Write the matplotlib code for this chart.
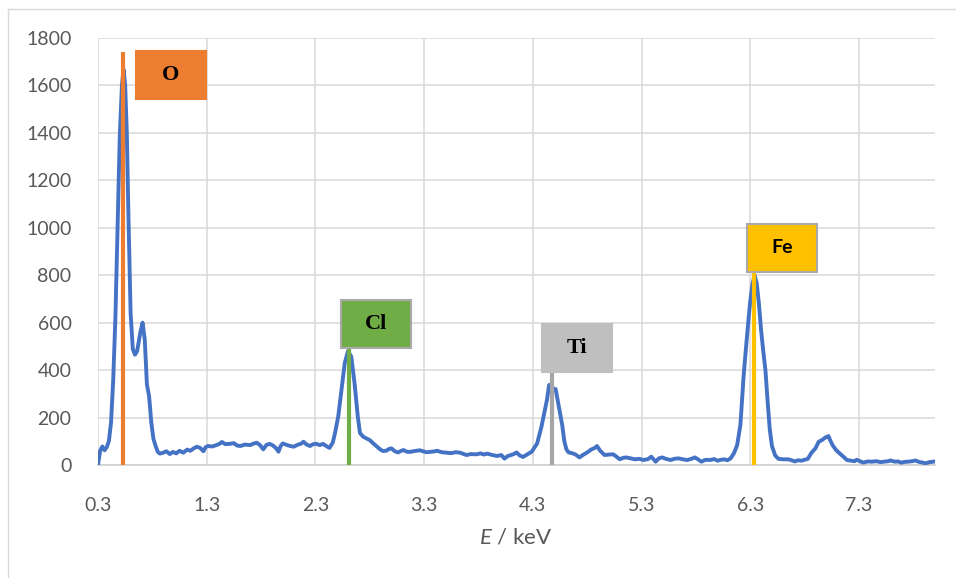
import numpy as np
import matplotlib
matplotlib.use("Agg")
import matplotlib.pyplot as plt
from matplotlib.patches import Rectangle
from matplotlib.lines import Line2D

# ---------------- data ----------------
energy_kev = [
    0.30, 0.32, 0.34, 0.36, 0.38, 0.40, 0.42, 0.44, 0.46, 0.48, 0.50, 0.52, 0.535, 0.55, 0.565, 0.58,
    0.60, 0.62, 0.64, 0.66, 0.69, 0.71, 0.73, 0.75, 0.77, 0.79, 0.81, 0.83, 0.85, 0.87, 0.90, 0.93,
    0.96, 0.99, 1.02, 1.05, 1.085, 1.12, 1.15, 1.18, 1.21, 1.24, 1.27, 1.29, 1.31, 1.35, 1.39, 1.42,
    1.44, 1.47, 1.51, 1.55, 1.58, 1.61, 1.65, 1.70, 1.73, 1.76, 1.79, 1.82, 1.85, 1.88, 1.91, 1.94,
    1.96, 1.98, 2.00, 2.04, 2.07, 2.10, 2.14, 2.17, 2.19, 2.22, 2.25, 2.28, 2.31, 2.34, 2.37, 2.40,
    2.43, 2.46, 2.48, 2.51, 2.54, 2.57, 2.60, 2.63, 2.66, 2.69, 2.71, 2.74, 2.77, 2.80, 2.83, 2.86,
    2.89, 2.92, 2.95, 2.98, 3.00, 3.03, 3.06, 3.09, 3.11, 3.14, 3.17, 3.20, 3.23, 3.26, 3.29, 3.32,
    3.35, 3.39, 3.42, 3.46, 3.51, 3.55, 3.59, 3.63, 3.66, 3.69, 3.73, 3.78, 3.82, 3.85, 3.88, 3.92,
    3.97, 4.01, 4.04, 4.07, 4.10, 4.13, 4.15, 4.18, 4.21, 4.25, 4.29, 4.34, 4.38, 4.41, 4.43, 4.45,
    4.47, 4.49, 4.51, 4.54, 4.57, 4.59, 4.61, 4.63, 4.66, 4.69, 4.73, 4.76, 4.80, 4.84, 4.87, 4.89,
    4.92, 4.96, 5.00, 5.04, 5.07, 5.10, 5.13, 5.16, 5.20, 5.24, 5.28, 5.32, 5.36, 5.39, 5.43, 5.46,
    5.49, 5.53, 5.57, 5.60, 5.64, 5.68, 5.72, 5.76, 5.79, 5.82, 5.85, 5.89, 5.93, 5.97, 6.00, 6.03,
    6.06, 6.09, 6.12, 6.15, 6.18, 6.21, 6.24, 6.27, 6.30, 6.32, 6.34, 6.36, 6.38, 6.40, 6.42, 6.44,
    6.46, 6.48, 6.50, 6.53, 6.56, 6.60, 6.65, 6.68, 6.71, 6.74, 6.77, 6.80, 6.83, 6.86, 6.88, 6.90,
    6.93, 6.96, 6.98, 7.00, 7.02, 7.04, 7.06, 7.09, 7.12, 7.15, 7.19, 7.23, 7.26, 7.28, 7.31, 7.34,
    7.38, 7.42, 7.46, 7.50, 7.53, 7.57, 7.59, 7.63, 7.66, 7.69, 7.72, 7.75, 7.79, 7.82, 7.86, 7.89,
    7.91, 7.95, 7.98, 8.00,
]
counts = [
    2, 60, 78, 62, 75, 100, 180, 360, 620, 1000, 1380, 1600, 1668, 1600, 1400, 1050,
    640, 490, 465, 480, 560, 600, 530, 340, 290, 180, 110, 80, 55, 48, 52, 58,
    46, 55, 49, 60, 52, 65, 60, 70, 77, 72, 58, 75, 80, 78, 84, 90,
    97, 88, 89, 92, 82, 80, 86, 84, 90, 94, 84, 66, 85, 89, 82, 70,
    56, 80, 91, 84, 80, 77, 86, 90, 98, 86, 80, 88, 89, 84, 89, 80,
    72, 95, 134, 204, 316, 430, 480, 457, 345, 204, 135, 119, 112, 105, 92, 80,
    68, 59, 60, 68, 70, 58, 53, 60, 63, 56, 55, 58, 60, 62, 58, 54,
    55, 57, 60, 54, 52, 50, 54, 52, 47, 42, 46, 45, 49, 44, 48, 43,
    38, 42, 27, 38, 42, 47, 53, 40, 34, 45, 56, 91, 162, 230, 274, 337,
    340, 318, 320, 246, 170, 100, 65, 53, 50, 45, 32, 42, 53, 66, 72, 80,
    60, 42, 44, 45, 35, 24, 30, 32, 28, 24, 26, 21, 25, 35, 14, 28,
    32, 25, 21, 26, 28, 24, 21, 26, 32, 24, 14, 22, 21, 25, 18, 22,
    24, 20, 28, 49, 84, 170, 380, 540, 690, 760, 801, 766, 680, 569, 480, 400,
    270, 150, 80, 40, 26, 24, 24, 20, 15, 20, 18, 22, 26, 49, 60, 70,
    98, 105, 112, 118, 122, 100, 82, 63, 50, 38, 21, 18, 16, 22, 16, 10,
    15, 14, 16, 12, 14, 16, 19, 14, 15, 10, 13, 14, 16, 19, 12, 10,
    7, 12, 14, 15,
]

elements = ["O", "Cl", "Ti", "Fe"]
element_energy = [0.53, 2.61, 4.48, 6.335]
element_line_top = [1742, 493, 392, 814]

x_ticks = [0.3, 1.3, 2.3, 3.3, 4.3, 5.3, 6.3, 7.3]
x_tick_labels = ["0.3", "1.3", "2.3", "3.3", "4.3", "5.3", "6.3", "7.3"]
y_ticks = [0, 200, 400, 600, 800, 1000, 1200, 1400, 1600, 1800]
y_tick_labels = ["0", "200", "400", "600", "800", "1000", "1200", "1400", "1600", "1800"]

# ---------------- style ----------------
plt.rcParams["font.family"] = ["Lato", "DejaVu Sans"]
plt.rcParams["mathtext.fontset"] = "custom"
plt.rcParams["mathtext.it"] = "Lato:italic"
plt.rcParams["mathtext.rm"] = "Lato"

line_colors = ["#ED7D31", "#70AD47", "#A5A5A5", "#FFC000"]
box_colors = ["#ED7D31", "#70AD47", "#BFBFBF", "#FFC000"]
box_edges = ["#ED7D31", "#A9A9A9", "#BFBFBF", "#A9A9A9"]
label_fonts = [["Liberation Serif"], ["Liberation Serif"], ["Liberation Serif"], ["Lato", "DejaVu Sans"]]
label_sizes = [16, 16, 16, 14]
# box layout (left in keV, bottom in counts)
box_left = [0.65, 2.535, 4.385, 6.27]
box_bottom = [1543, 493, 392, 814]
box_w = 0.644
box_h = 202

W, H = 956, 578
fig = plt.figure(figsize=(W / 100, H / 100), dpi=100)
ax = fig.add_axes([98 / W, (H - 465) / H, (935 - 98) / W, (465 - 38) / H])

ax.set_xlim(0.3, 8.0)
ax.set_ylim(0, 1800)
ax.set_xticks(x_ticks)
ax.set_xticklabels(x_tick_labels)
ax.set_yticks(y_ticks)
ax.set_yticklabels(y_tick_labels)
ax.tick_params(axis="both", length=0, labelsize=14, labelcolor="#595959")
ax.tick_params(axis="y", pad=19)
ax.tick_params(axis="x", pad=23)
ax.grid(True, color="#D9D9D9", linewidth=1.1)
ax.set_axisbelow(True)
for s in ["top", "right", "left"]:
    ax.spines[s].set_visible(False)
ax.spines["bottom"].set_color("#D0D0D0")
ax.spines["bottom"].set_linewidth(1.2)

ax.plot(energy_kev, counts, color="#4472C4", linewidth=2.8, zorder=3,
        solid_joinstyle="round", solid_capstyle="round")

for i, el in enumerate(elements):
    ax.plot([element_energy[i], element_energy[i]], [0, element_line_top[i]],
            color=line_colors[i], linewidth=3.0, zorder=4, solid_capstyle="butt")
    ax.add_patch(Rectangle((box_left[i], box_bottom[i]), box_w, box_h,
                           facecolor=box_colors[i], edgecolor=box_edges[i],
                           linewidth=1.5, zorder=5, clip_on=False))
    ax.text(box_left[i] + box_w / 2, box_bottom[i] + box_h / 2, el,
            ha="center", va="center", fontsize=label_sizes[i], fontweight="bold",
            family=label_fonts[i], color="black", zorder=6)

fig.text(516 / W, 1 - 537 / H, r"$E$ / keV", ha="center", va="center",
         fontsize=16, color="#595959")

# outer chart frame (top and left edges visible)
fig.add_artist(Line2D([8 / W, 8 / W], [0, 1 - 9 / H], transform=fig.transFigure,
                      color="#D9D9D9", linewidth=1.0))
fig.add_artist(Line2D([8 / W, 1], [1 - 9 / H, 1 - 9 / H], transform=fig.transFigure,
                      color="#D9D9D9", linewidth=1.0))

fig.savefig("out.png", dpi=100)
